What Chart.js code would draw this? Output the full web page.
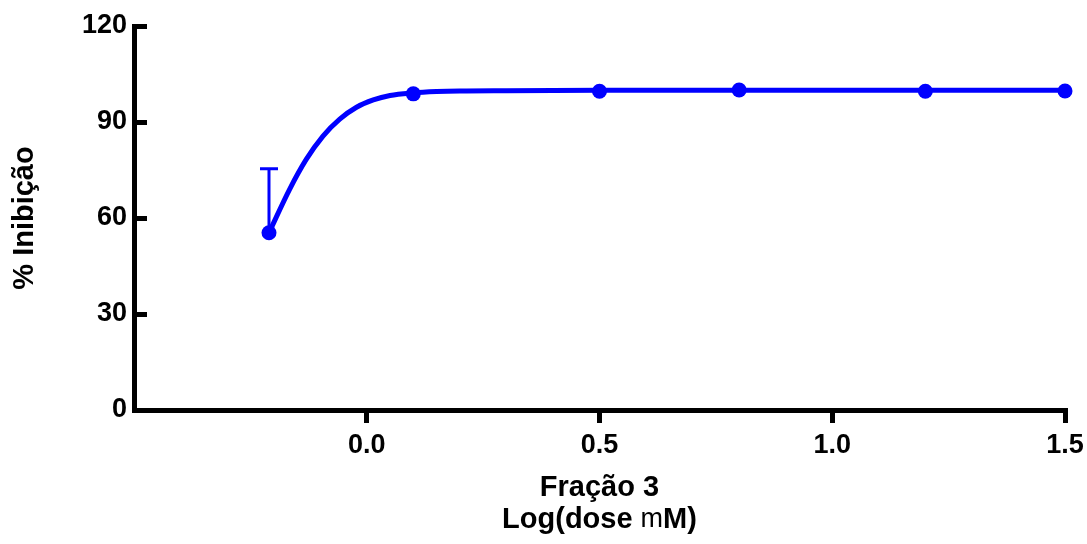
<!DOCTYPE html>
<html>
<head>
<meta charset="utf-8">
<script src="https://cdn.jsdelivr.net/npm/chart.js@4.4.1/dist/chart.umd.min.js"></script>
<style>
  html, body { margin: 0; padding: 0; background: #fff; }
  #wrap { width: 1087px; height: 544px; }
</style>
</head>
<body>
<div id="wrap"><canvas id="doseChart" width="1087" height="544"></canvas></div>
<script>
// Log(dose) and % inhibition
const doseLog = [-0.21, 0.1, 0.5, 0.8, 1.2, 1.5];
const inhibition = [55.4, 98.8, 99.6, 100.0, 99.6, 99.7];
const errorUp = [20.0, 0, 0, 0, 0, 0];

// fitted curve
const curveX = [-0.21, -0.166, -0.13, -0.094, -0.058, -0.022, 0.014, 0.05, 0.1, 0.15, 0.2, 0.3, 0.5, 0.8, 1.2, 1.5];
const curveY = [55.4, 68.9, 78.3, 85.6, 90.9, 94.6, 96.9, 98.3, 99.1, 99.5, 99.7, 99.8, 99.9, 99.9, 99.9, 99.9];

const xTicks = [0.0, 0.5, 1.0, 1.5];
const yTicks = [0, 30, 60, 90, 120];

const blue = '#0000ff';
const fontFamily = "'Liberation Sans', Arial, sans-serif";
Chart.defaults.font.family = fontFamily;
Chart.defaults.color = '#000';

// error bars (upper only) drawn through the scales
const errorBars = {
    id: 'errorBars',
    afterDatasetsDraw(chart) {
        const ctx = chart.ctx;
        const xs = chart.scales.x, ys = chart.scales.y;
        ctx.save();
        ctx.strokeStyle = blue;
        ctx.lineWidth = 3;
        doseLog.forEach((d, i) => {
            if (!errorUp[i]) return;
            const px = xs.getPixelForValue(d);
            const y0 = ys.getPixelForValue(inhibition[i]);
            const y1 = ys.getPixelForValue(inhibition[i] + errorUp[i]);
            ctx.beginPath();
            ctx.moveTo(px, y0);
            ctx.lineTo(px, y1);
            ctx.moveTo(px - 9, y1);
            ctx.lineTo(px + 9, y1);
            ctx.stroke();
        });
        ctx.restore();
    }
};

// two-line x title, the "m" of mM in regular weight like the original
const xTitle = {
    id: 'xTitle',
    afterDraw(chart) {
        const ctx = chart.ctx;
        const area = chart.chartArea;
        const cx = (area.left + area.right) / 2;
        ctx.save();
        ctx.fillStyle = '#000';
        ctx.textBaseline = 'middle';
        ctx.textAlign = 'center';
        ctx.font = 'bold 29px ' + fontFamily;
        ctx.fillText('Fração 3', cx, 488);

        const parts = [
            { t: 'Log(dose ', f: 'bold 29px ' + fontFamily },
            { t: 'm', f: '27px ' + fontFamily },
            { t: 'M)', f: 'bold 29px ' + fontFamily }
        ];
        let total = 0;
        parts.forEach(p => { ctx.font = p.f; p.w = ctx.measureText(p.t).width; total += p.w; });
        let x = cx - total / 2;
        ctx.textAlign = 'left';
        parts.forEach(p => { ctx.font = p.f; ctx.fillText(p.t, x, 520); x += p.w; });
        ctx.restore();
    }
};

const ctx = document.getElementById('doseChart').getContext('2d');
new Chart(ctx, {
    type: 'scatter',
    data: {
        datasets: [
            {
                label: 'Curve',
                data: curveX.map((x, i) => ({ x: x, y: curveY[i] })),
                showLine: true,
                borderColor: blue,
                borderWidth: 5,
                pointRadius: 0,
                cubicInterpolationMode: 'monotone',
                clip: false
            },
            {
                label: 'Fração 3',
                data: doseLog.map((x, i) => ({ x: x, y: inhibition[i] })),
                backgroundColor: blue,
                borderWidth: 0,
                pointRadius: 7.5,
                clip: false
            }
        ]
    },
    options: {
        responsive: false,
        animation: false,
        events: [],
        layout: { padding: { top: 26, right: 22, left: 0, bottom: 0 } },
        plugins: {
            legend: { display: false },
            tooltip: { enabled: false }
        },
        scales: {
            x: {
                type: 'linear',
                min: -0.5,
                max: 1.5,
                afterBuildTicks: function(scale) {
                    scale.ticks = xTicks.map(v => ({ value: v }));
                },
                afterFit: function(scale) {
                    scale.height = 134;
                    scale.paddingLeft = 0;
                    scale.paddingRight = 0;
                },
                grid: {
                    drawOnChartArea: false,
                    drawTicks: true,
                    tickLength: 13,
                    lineWidth: 5,
                    color: '#000',
                    tickColor: '#000'
                },
                border: { display: true, color: '#000', width: 5 },
                ticks: {
                    color: '#000',
                    padding: 6,
                    maxRotation: 0,
                    font: { size: 27, weight: 'bold' },
                    callback: function(value) { return value.toFixed(1); }
                }
            },
            y: {
                min: 0,
                max: 120,
                afterBuildTicks: function(scale) {
                    scale.ticks = yTicks.map(v => ({ value: v }));
                },
                afterFit: function(scale) {
                    scale.width = 134;
                    scale.paddingTop = 0;
                    scale.paddingBottom = 0;
                },
                grid: {
                    drawOnChartArea: false,
                    drawTicks: true,
                    tickLength: -13,
                    lineWidth: 5,
                    color: '#000',
                    tickColor: '#000'
                },
                border: { display: true, color: '#000', width: 5 },
                ticks: {
                    color: '#000',
                    padding: 20,
                    font: { size: 27, weight: 'bold' },
                    callback: function(value) { return String(value); }
                },
                title: {
                    display: true,
                    text: '% Inibição',
                    color: '#000',
                    font: { size: 29, weight: 'bold' },
                    padding: { top: 8, bottom: 0 }
                }
            }
        }
    },
    plugins: [errorBars, xTitle]
});
</script>
</body>
</html>
